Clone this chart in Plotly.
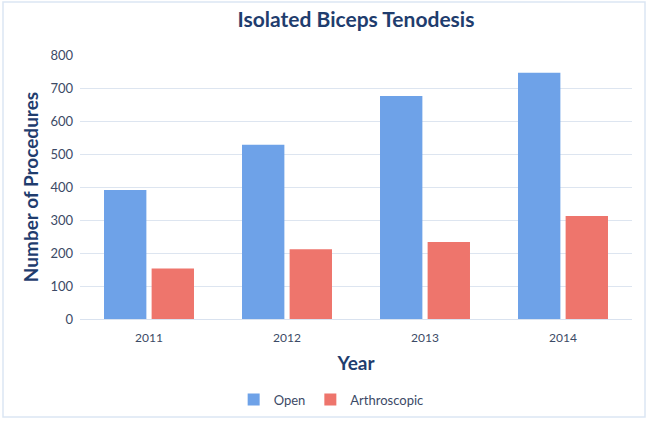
import plotly.graph_objects as go

years = ["2011", "2012", "2013", "2014"]
open_vals = [391, 528, 676, 746]
arthro_vals = [153, 211, 233, 312]
y_ticks = [0, 100, 200, 300, 400, 500, 600, 700, 800]

navy = "#1f3d6e"
tick_col = "#3c4a66"

fig = go.Figure()
fig.add_trace(go.Bar(x=years, y=open_vals, name="Open",
                     marker=dict(color="#6ea2e8", line=dict(width=0))))
fig.add_trace(go.Bar(x=years, y=arthro_vals, name="Arthroscopic",
                     marker=dict(color="#ee756c", line=dict(width=0))))

W, H = 649, 421
L, T, R, B = 80, 55, 17, 102
PW, PH = W - L - R, H - T - B

fig.update_layout(
    width=W, height=H,
    margin=dict(l=L, r=R, t=T, b=B, autoexpand=False),
    paper_bgcolor="white", plot_bgcolor="white",
    font=dict(family="Lato, sans-serif", color=tick_col, size=13),
    title=dict(text="<b>Isolated Biceps Tenodesis</b>", x=(L + PW / 2) / W, xanchor="center",
               y=1 - 20 / H, yanchor="middle",
               font=dict(size=21, color=navy, family="Lato, sans-serif")),
    bargap=0.31, bargroupgap=0.11,
    legend=dict(orientation="h", x=0.455, xanchor="center", y=-0.305, yanchor="middle",
                font=dict(size=13, color=tick_col), itemwidth=30,
                traceorder="normal"),
    xaxis=dict(title=dict(text="<b>Year</b>", font=dict(size=19, color=navy), standoff=12),
               showline=True, linecolor="#d9e2ef", linewidth=1, ticks="",
               ticklabelstandoff=8, automargin=False,
               tickfont=dict(size=12, color=tick_col)),
    yaxis=dict(title=dict(text="<b>Number of Procedures</b>", font=dict(size=19, color=navy), standoff=6),
               range=[0, 800], tickvals=y_ticks, gridcolor="#dde5f0", gridwidth=1,
               automargin=False, ticklabelstandoff=6,
               zeroline=False, ticks="", tickfont=dict(size=13, color=tick_col)),
    shapes=[dict(type="rect", xref="paper", yref="paper",
                 x0=-(L - 3) / PW, x1=1 + (R - 4) / PW, y0=-(B - 4) / PH, y1=1 + (T - 2) / PH,
                 line=dict(color="#dbe6f3", width=1.5), layer="below")],
)

fig.write_html("out.html", config={"displayModeBar": False},
               post_script="document.body.style.margin='0';document.body.style.overflow='hidden';")
